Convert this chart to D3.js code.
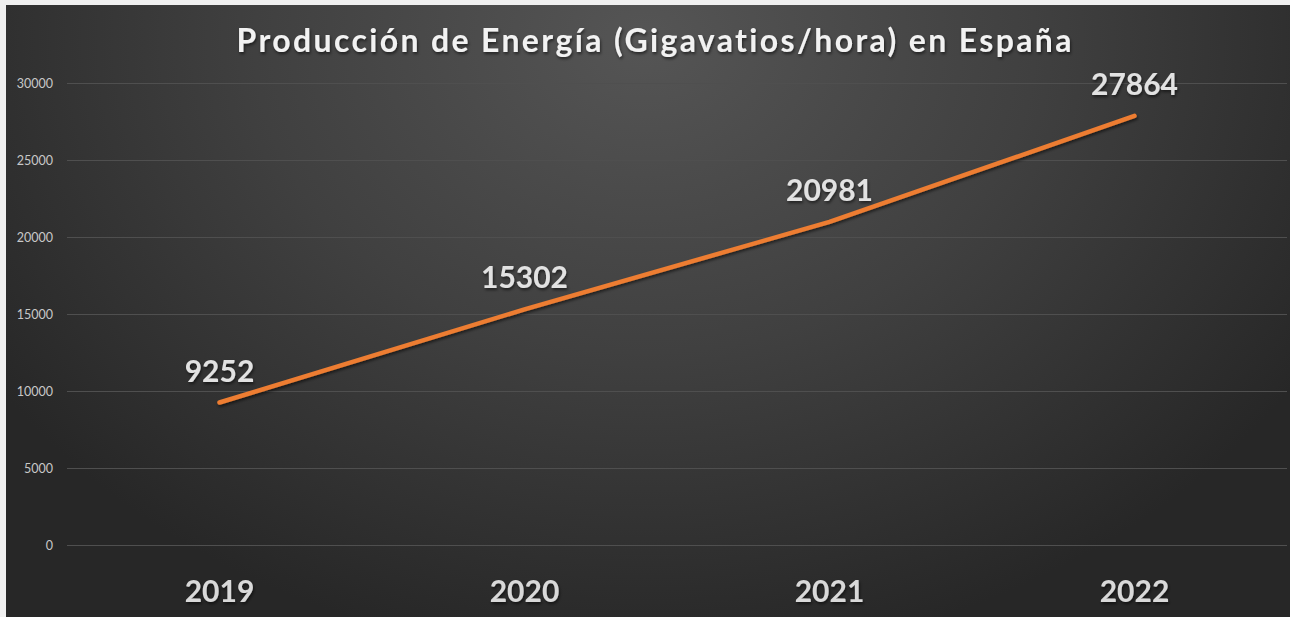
<!DOCTYPE html>
<html>
<head>
<meta charset="utf-8">
<script src="https://cdn.jsdelivr.net/npm/d3@7"></script>
<style>
  body { margin: 0; background: #f0f0f0; }
  svg { display: block; }
  text { font-variant-ligatures: none; }
</style>
</head>
<body>
<div id="chart"></div>
<script>
// chart data
const years = ["2019", "2020", "2021", "2022"];
const production = [9252, 15302, 20981, 27864];
const yTicks = [0, 5000, 10000, 15000, 20000, 25000, 30000];
const chartTitle = "Producción de Energía (Gigavatios/hora) en España";

const width = 1290, height = 617;
const box = { x: 6, y: 5, w: 1284, h: 612 };
const margin = { top: 83, right: 3, bottom: 72, left: 67 };

const svg = d3.select("#chart").append("svg")
  .attr("width", width)
  .attr("height", height);

const defs = svg.append("defs");
const grad = defs.append("radialGradient")
  .attr("id", "bg")
  .attr("gradientUnits", "userSpaceOnUse")
  .attr("cx", 645).attr("cy", 40)
  .attr("r", 780)
  .attr("gradientTransform", "translate(645,40) scale(1,0.8) translate(-645,-40)");
grad.append("stop").attr("offset", "0%").attr("stop-color", "#555555");
grad.append("stop").attr("offset", "50%").attr("stop-color", "#404040");
grad.append("stop").attr("offset", "100%").attr("stop-color", "#272727");

const shadow = defs.append("filter").attr("id", "shadow")
  .attr("x", "-10%").attr("y", "-30%").attr("width", "120%").attr("height", "160%");
shadow.append("feDropShadow")
  .attr("dx", 1).attr("dy", 2).attr("stdDeviation", 1.5)
  .attr("flood-color", "#000").attr("flood-opacity", 0.55);

svg.append("rect")
  .attr("x", box.x).attr("y", box.y)
  .attr("width", box.w).attr("height", box.h)
  .attr("fill", "url(#bg)");

const x = d3.scaleBand()
  .domain(years)
  .range([margin.left, width - margin.right]);

const y = d3.scaleLinear()
  .domain([0, 30000])
  .range([height - margin.bottom, margin.top]);

// gridlines
svg.append("g")
  .selectAll("line")
  .data(yTicks)
  .join("line")
  .attr("x1", margin.left)
  .attr("x2", width - margin.right)
  .attr("y1", d => Math.round(y(d)) + 0.5)
  .attr("y2", d => Math.round(y(d)) + 0.5)
  .attr("stroke", "#4f4f4f")
  .attr("stroke-width", 1);

// y tick labels
svg.append("g")
  .selectAll("text")
  .data(yTicks)
  .join("text")
  .attr("x", 53)
  .attr("y", d => y(d) + 4.5)
  .attr("text-anchor", "end")
  .attr("font-family", "Lato, sans-serif")
  .attr("font-size", 12.5)
  .attr("fill", "#c8c8c8")
  .text(d => d);

// x labels
svg.append("g")
  .selectAll("text")
  .data(years)
  .join("text")
  .attr("x", d => x(d) + x.bandwidth() / 2)
  .attr("y", 602)
  .attr("text-anchor", "middle")
  .attr("font-family", "Lato, sans-serif")
  .attr("font-weight", "bold")
  .attr("font-size", 30)
  .attr("fill", "#d9d9d9")
  .attr("filter", "url(#shadow)")
  .text(d => d);

// line
const line = d3.line()
  .x((d, i) => x(years[i]) + x.bandwidth() / 2)
  .y(d => y(d));

svg.append("path")
  .datum(production)
  .attr("d", line)
  .attr("fill", "none")
  .attr("stroke", "#ed7d31")
  .attr("stroke-width", 4.5)
  .attr("stroke-linecap", "round")
  .attr("filter", "url(#shadow)");

// data labels
svg.append("g")
  .selectAll("text")
  .data(production)
  .join("text")
  .attr("x", (d, i) => x(years[i]) + x.bandwidth() / 2)
  .attr("y", d => y(d) - 21)
  .attr("text-anchor", "middle")
  .attr("font-family", "Lato, sans-serif")
  .attr("font-weight", "bold")
  .attr("font-size", 30)
  .attr("fill", "#e2e2e2")
  .attr("filter", "url(#shadow)")
  .text(d => d);

// title
svg.append("text")
  .attr("x", 654)
  .attr("y", 52)
  .attr("text-anchor", "middle")
  .attr("font-family", "Lato, sans-serif")
  .attr("font-weight", "bold")
  .attr("font-size", 32)
  .attr("textLength", 835)
  .attr("lengthAdjust", "spacing")
  .attr("fill", "#f2f2f2")
  .attr("filter", "url(#shadow)")
  .text(chartTitle);
</script>
</body>
</html>
